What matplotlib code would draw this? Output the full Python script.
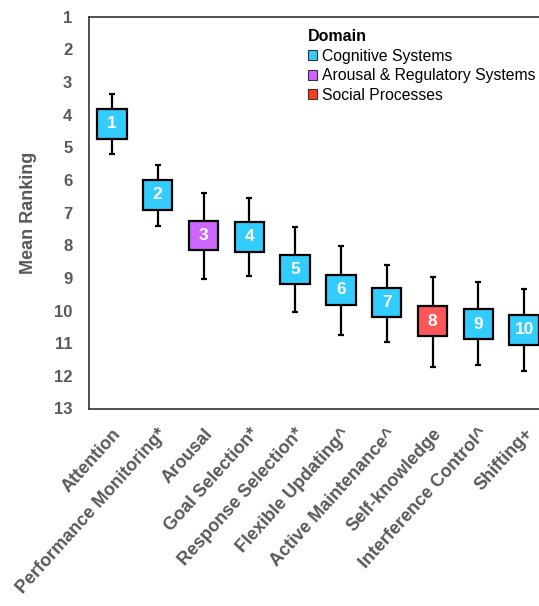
import matplotlib
matplotlib.use("Agg")
import matplotlib.pyplot as plt
from matplotlib.patches import Patch
import numpy as np

plt.rcParams['font.family'] = ['Liberation Sans', 'DejaVu Sans']

# data
labels = ["Attention", "Performance Monitoring*", "Arousal", "Goal Selection*",
          "Response Selection*", "Flexible Updating^", "Active Maintenance^",
          "Self-knowledge", "Interference Control^", "Shifting+"]
domains = ["cog", "cog", "arousal", "cog", "cog", "cog", "cog", "social", "cog", "cog"]
box_low = [3.83, 6.01, 7.25, 7.28, 8.29, 8.92, 9.30, 9.87, 9.96, 10.13]
box_high = [4.74, 6.91, 8.16, 8.20, 9.19, 9.82, 10.21, 10.79, 10.88, 11.04]
whisk_low = [3.37, 5.53, 6.40, 6.54, 7.43, 8.01, 8.60, 8.98, 9.14, 9.34]
whisk_high = [5.21, 7.40, 9.03, 8.95, 10.03, 10.74, 10.96, 11.72, 11.67, 11.86]

box_colors = {"cog": "#33CCFF", "arousal": "#CC66FF", "social": "#FF5757"}
legend_colors = {"cog": "#33CCFF", "arousal": "#CC66FF", "social": "#FF3C1E"}
legend_names = {"cog": "Cognitive Systems", "arousal": "Arousal & Regulatory Systems",
                "social": "Social Processes"}

gray = "#595959"

fig = plt.figure(figsize=(5.39, 6.06), dpi=100)
ax = fig.add_axes([89 / 539, 1 - 408.5 / 606, (547 - 89) / 539, (408.5 - 16.7) / 606])

x = np.arange(1, len(labels) + 1)
lo = np.array(box_low)
hi = np.array(box_high)
mid = (lo + hi) / 2

ax.errorbar(x, mid, yerr=[mid - np.array(whisk_low), np.array(whisk_high) - mid],
            fmt="none", ecolor="black", elinewidth=1.6, capsize=2.5, capthick=1.6, zorder=1)
ax.bar(x, hi - lo, bottom=lo, width=0.64,
       color=[box_colors[d] for d in domains], edgecolor="black", linewidth=1.6, zorder=2)

for xi, m in zip(x, mid):
    ax.text(xi, m, str(xi), ha="center", va="center", color="white",
            fontsize=12.5, fontweight="bold", zorder=3)

ax.set_xlim(0.5, 10.5)
ax.set_ylim(13, 1)
ax.set_yticks(range(1, 14))
ax.set_xticks(x)
ax.set_xticklabels(labels, rotation=48, ha="right", rotation_mode="anchor")
ax.tick_params(axis="y", length=0, labelsize=12, labelcolor=gray, pad=12)
ax.tick_params(axis="x", length=0, labelsize=13, labelcolor=gray, pad=12)
for t in ax.get_xticklabels() + ax.get_yticklabels():
    t.set_fontweight("bold")

ax.set_ylabel("Mean Ranking", fontsize=13, fontweight="bold", color=gray, labelpad=12)

for s in ["left", "top", "bottom", "right"]:
    ax.spines[s].set_color("#333333")
    ax.spines[s].set_linewidth(1.2)

handles = [Patch(facecolor=legend_colors[k], edgecolor="#333333", linewidth=0.8,
                 label=legend_names[k]) for k in ["cog", "arousal", "social"]]
leg = ax.legend(handles=handles, title="Domain", loc="upper left",
                bbox_to_anchor=(300 / 539, 1 - 21 / 606), bbox_transform=fig.transFigure,
                frameon=False, fontsize=11.3, title_fontproperties={"weight": "bold", "size": 11.5},
                handlelength=0.6, handleheight=0.6, handletextpad=0.3,
                labelspacing=0.3, borderpad=0, alignment="left")

fig.savefig("out.png", dpi=100)
